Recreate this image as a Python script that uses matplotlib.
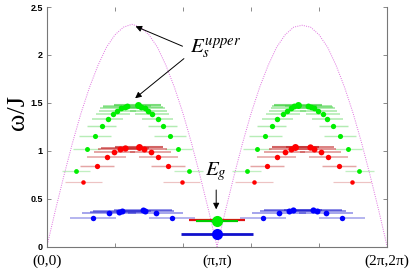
import numpy as np
import matplotlib
matplotlib.use('Agg')
import matplotlib.pyplot as plt

plt.rcParams['mathtext.fontset'] = 'stix'

# ---- data (k in units of pi, omega in units of J) ----
curve_k = [0.0, 0.05, 0.1, 0.15, 0.2, 0.25, 0.3, 0.35, 0.4, 0.45, 0.5,
           0.55, 0.6, 0.65, 0.7, 0.75, 0.8, 0.85, 0.9, 0.95, 1.0,
           1.05, 1.1, 1.15, 1.2, 1.25, 1.3, 1.35, 1.4, 1.45, 1.5,
           1.55, 1.6, 1.65, 1.7, 1.75, 1.8, 1.85, 1.9, 1.95, 2.0]
curve_w = [0.0, 0.38, 0.74, 1.08, 1.39, 1.66, 1.89, 2.08, 2.21, 2.29, 2.32,
           2.29, 2.21, 2.08, 1.89, 1.66, 1.39, 1.08, 0.74, 0.38, 0.0,
           0.38, 0.74, 1.08, 1.39, 1.66, 1.89, 2.08, 2.21, 2.29, 2.31,
           2.29, 2.21, 2.08, 1.89, 1.66, 1.39, 1.08, 0.74, 0.38, 0.0]

green_k = [0.171, 0.233, 0.282, 0.322, 0.357, 0.386, 0.414, 0.435, 0.457, 0.472,
           0.533, 0.553, 0.576, 0.596, 0.619, 0.651, 0.682, 0.722, 0.773, 0.833,
           1.175, 1.235, 1.284, 1.322, 1.355, 1.386, 1.414, 1.437, 1.455, 1.475,
           1.537, 1.553, 1.572, 1.596, 1.622, 1.649, 1.684, 1.724, 1.771, 1.835]
green_w = [0.79, 1.015, 1.154, 1.255, 1.336, 1.388, 1.42, 1.45, 1.46, 1.47,
           1.48, 1.462, 1.445, 1.415, 1.388, 1.33, 1.258, 1.154, 1.015, 0.79,
           0.79, 1.015, 1.154, 1.258, 1.33, 1.388, 1.42, 1.45, 1.465, 1.48,
           1.467, 1.458, 1.447, 1.42, 1.388, 1.336, 1.258, 1.154, 1.015, 0.79]
green_dk = [0.085, 0.08, 0.095, 0.085, 0.09, 0.1, 0.11, 0.12, 0.13, 0.14,
            0.14, 0.13, 0.12, 0.11, 0.1, 0.09, 0.085, 0.095, 0.08, 0.085,
            0.085, 0.08, 0.095, 0.085, 0.09, 0.1, 0.11, 0.12, 0.13, 0.14,
            0.14, 0.13, 0.12, 0.11, 0.1, 0.09, 0.085, 0.095, 0.08, 0.085]
green_wt = [0.3, 0.35, 0.4, 0.45, 0.5, 0.5, 0.55, 0.6, 0.6, 0.65,
            1.0, 0.65, 0.6, 0.6, 0.55, 0.5, 0.45, 0.4, 0.35, 0.3,
            0.3, 0.35, 0.4, 0.45, 0.5, 0.5, 0.55, 0.6, 0.65, 1.0,
            0.65, 0.6, 0.6, 0.55, 0.5, 0.5, 0.45, 0.4, 0.35, 0.3]

red_k = [0.214, 0.292, 0.351, 0.396, 0.431, 0.459, 0.543, 0.573, 0.61, 0.655, 0.714, 0.792,
         1.218, 1.292, 1.351, 1.398, 1.434, 1.461, 1.547, 1.572, 1.61, 1.655, 1.714, 1.792]
red_w = [0.673, 0.844, 0.934, 0.987, 1.018, 1.032, 1.04, 1.022, 0.987, 0.934, 0.844, 0.673,
         0.673, 0.844, 0.934, 0.987, 1.018, 1.039, 1.039, 1.022, 0.987, 0.934, 0.844, 0.673]
red_dk = [0.11, 0.1, 0.115, 0.12, 0.13, 0.14, 0.14, 0.13, 0.12, 0.115, 0.1, 0.11,
          0.11, 0.1, 0.115, 0.12, 0.13, 0.14, 0.14, 0.13, 0.12, 0.115, 0.1, 0.11]
red_wt = [0.2, 0.45, 0.5, 0.6, 0.7, 0.8, 1.0, 0.7, 0.6, 0.5, 0.45, 0.2,
          0.2, 0.45, 0.5, 0.6, 0.7, 1.0, 0.8, 0.7, 0.6, 0.5, 0.45, 0.2]

blue_k = [0.269, 0.365, 0.422, 0.443, 0.563, 0.576, 0.639, 0.733,
          1.272, 1.365, 1.424, 1.445, 1.563, 1.586, 1.641, 1.737]
blue_w = [0.296, 0.348, 0.366, 0.373, 0.377, 0.37, 0.348, 0.296,
          0.3, 0.348, 0.37, 0.377, 0.377, 0.37, 0.348, 0.296]
blue_dk = [0.135, 0.16, 0.17, 0.17, 0.17, 0.17, 0.16, 0.135,
           0.135, 0.16, 0.17, 0.17, 0.17, 0.17, 0.16, 0.135]
blue_wt = [0.5, 0.6, 0.7, 0.7, 0.7, 0.7, 0.6, 0.5,
           0.5, 0.6, 0.7, 0.75, 0.75, 0.7, 0.6, 0.5]

# gap modes at (pi, pi)
gap_k = 1.0
gap_red_w, gap_red_dk = 0.278, 0.165
gap_green_w, gap_green_dk = 0.27, 0.125
gap_blue_w, gap_blue_dk = 0.133, 0.21

fig = plt.figure(figsize=(4.15, 2.71), dpi=100)
ax = fig.add_axes([0.113, 0.090, 0.820, 0.884])

ax.plot(curve_k, curve_w, color='#e070e0', linestyle=(0, (1, 1.3)), linewidth=0.7, zorder=1)


def branch(k, w, dk, wt, bar_col, dot_col):
    for ki, wi, di, ti in zip(k, w, dk, wt):
        ax.plot([ki - di, ki + di], [wi, wi], color=bar_col,
                alpha=0.15 + 0.5 * ti, linewidth=0.7 + 0.8 * ti,
                solid_capstyle='butt', zorder=2)
    for ki, wi, ti in zip(k, w, wt):
        ax.plot(ki, wi, 'o', color=dot_col, markersize=2.8 + 2.2 * ti,
                markeredgewidth=0, zorder=3)


branch(green_k, green_w, green_dk, green_wt, '#33cc33', '#00ee00')
branch(red_k, red_w, red_dk, red_wt, '#bb1111', '#ff0000')
branch(blue_k, blue_w, blue_dk, blue_wt, '#1111cc', '#0000ff')

# (pi, pi) points
ax.plot([gap_k - gap_red_dk, gap_k + gap_red_dk], [gap_red_w] * 2,
        color='#e01010', linewidth=1.6, solid_capstyle='butt', zorder=4)
ax.plot([gap_k - gap_green_dk, gap_k + gap_green_dk], [gap_green_w] * 2,
        color='#00cc00', linewidth=1.6, solid_capstyle='butt', zorder=4)
ax.plot(gap_k, gap_green_w, 'o', color='#00ee00', markersize=8, markeredgewidth=0, zorder=5)
ax.plot([gap_k - gap_blue_dk, gap_k + gap_blue_dk], [gap_blue_w] * 2,
        color='#1010cc', linewidth=2.0, solid_capstyle='butt', zorder=4)
ax.plot(gap_k, gap_blue_w, 'o', color='#0000ff', markersize=8, markeredgewidth=0, zorder=5)

# annotations
arrow = dict(arrowstyle='-|>', color='black', lw=0.7, mutation_scale=9)
ax.annotate('', xy=(0.506, 2.31), xytext=(0.812, 2.08), arrowprops=arrow)
ax.annotate('', xy=(0.506, 1.53), xytext=(0.818, 1.98), arrowprops=arrow)
ax.text(0.84, 2.03, r'$E_s^{upper}$', fontsize=15, ha='left', va='baseline')
ax.annotate('', xy=(0.995, 0.36), xytext=(0.995, 0.62), arrowprops=arrow)
ax.text(0.93, 0.74, r'$E_g$', fontsize=15, ha='left', va='baseline')

ax.set_xlim(0, 2)
ax.set_ylim(0, 2.5)
ax.set_xticks([0.4, 0.8, 1.2, 1.6])
ax.set_xticklabels([])
ax.set_yticks([0, 0.5, 1, 1.5, 2, 2.5])
ax.set_yticklabels(['0', '0.5', '1', '1.5', '2', '2.5'],
                   fontsize=6.5, fontweight='bold', family='Liberation Sans')
ax.tick_params(direction='in', length=3, width=0.6, color='#777777',
               top=True, right=True, pad=3)
ax.spines['top'].set_visible(False)
for s in ('left', 'bottom', 'right'):
    ax.spines[s].set_color('#777777')
    ax.spines[s].set_linewidth(0.8)

for kx, lab in [(0, '(0,0)'), (1, '(π,π)'), (2, '(2π,2π)')]:
    ax.text(kx, -0.08, lab, ha='center', va='top', fontsize=11,
            family='Liberation Serif')

fig.text(0.043, 0.585, 'ω/J', rotation=90, ha='center', va='center',
         fontsize=19, family='Liberation Serif')

fig.savefig('out.png', dpi=100)
